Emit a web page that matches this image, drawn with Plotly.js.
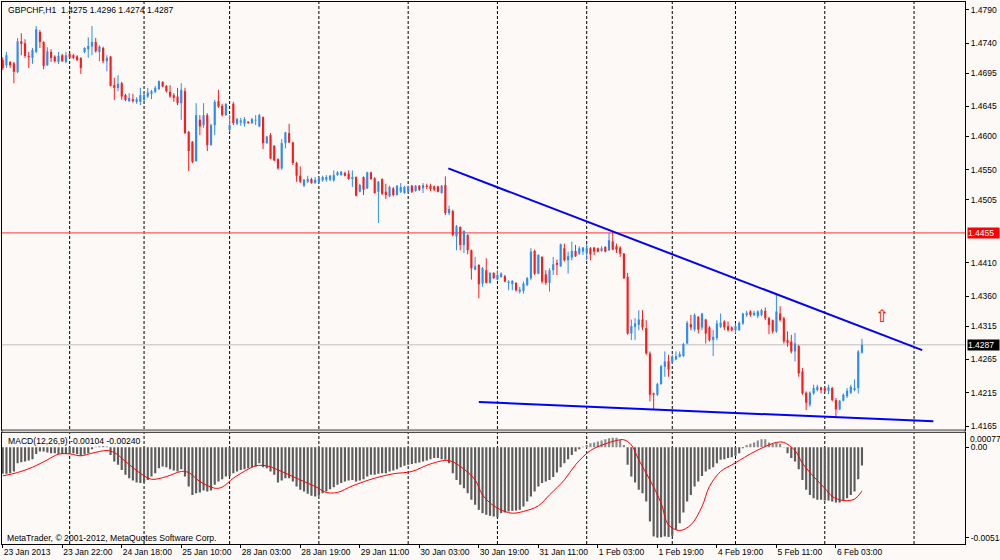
<!DOCTYPE html>
<html>
<head>
<meta charset="utf-8">
<script src="https://cdn.plot.ly/plotly-3.0.1.min.js"></script>
<style>
html,body{margin:0;padding:0;background:#fcf9f7;}
#chart{width:1000px;height:560px;}
</style>
</head>
<body>
<div id="chart"></div>
<script>
// ---------------- DATA (GBPCHF, H1) ----------------
const openP = [
1.4715,1.4707,1.4712,1.4710,1.4697,1.4743,1.4740,1.4721,1.4718,1.4727,
1.4757,1.4742,1.4707,1.4727,1.4720,1.4712,1.4722,1.4712,1.4724,1.4722,
1.4720,1.4718,1.4727,1.4731,1.4735,1.4742,1.4727,1.4733,1.4713,1.4720,
1.4677,1.4673,1.4680,1.4662,1.4653,1.4656,1.4652,1.4652,1.4655,1.4660,
1.4664,1.4667,1.4671,1.4682,1.4676,1.4667,1.4662,1.4660,1.4650,1.4668,
1.4607,1.4592,1.4563,1.4625,1.4617,1.4632,1.4587,1.4617,1.4653,1.4646,
1.4632,1.4610,1.4649,1.4619,1.4621,1.4619,1.4622,1.4620,1.4624,1.4615,
1.4629,1.4590,1.4602,1.4586,1.4566,1.4552,1.4590,1.4605,1.4591,1.4560,
1.4541,1.4526,1.4532,1.4536,1.4530,1.4532,1.4534,1.4535,1.4535,1.4534,
1.4542,1.4542,1.4545,1.4544,1.4536,1.4539,1.4517,1.4539,1.4522,1.4546,
1.4537,1.4517,1.4536,1.4517,1.4510,1.4522,1.4512,1.4517,1.4515,1.4517,
1.4526,1.4518,1.4526,1.4522,1.4526,1.4526,1.4525,1.4525,1.4515,1.4527,
1.4485,1.4488,1.4450,1.4464,1.4437,1.4452,1.4429,1.4400,1.4407,1.4379,
1.4399,1.4380,1.4395,1.4385,1.4389,1.4390,1.4380,1.4378,1.4380,1.4367,
1.4368,1.4377,1.4387,1.4428,1.4394,1.4419,1.4393,1.4380,1.4399,1.4410,
1.4405,1.4432,1.4414,1.4418,1.4428,1.4424,1.4427,1.4425,1.4432,1.4433,
1.4432,1.4428,1.4434,1.4429,1.4442,1.4435,1.4433,1.4424,1.4389,1.4304,
1.4314,1.4317,1.4325,1.4312,1.4274,1.4214,1.4212,1.4228,1.4254,1.4262,
1.4262,1.4265,1.4269,1.4270,1.4289,1.4318,1.4310,1.4329,1.4313,1.4325,
1.4313,1.4294,1.4297,1.4314,1.4322,1.4315,1.4313,1.4309,1.4309,1.4319,
1.4332,1.4337,1.4332,1.4330,1.4332,1.4338,1.4327,1.4324,1.4307,1.4334,
1.4327,1.4294,1.4292,1.4277,1.4285,1.4247,1.4215,1.4197,1.4214,1.4219,
1.4223,1.4222,1.4218,1.4222,1.4204,1.4190,1.4203,1.4210,1.4215,1.4219,
1.4222,1.4275];
const highP = [
1.4719,1.4727,1.4713,1.4712,1.4748,1.4755,1.4746,1.4727,1.4733,1.4766,
1.4760,1.4743,1.4734,1.4731,1.4722,1.4727,1.4724,1.4727,1.4725,1.4724,
1.4722,1.4719,1.4734,1.4749,1.4766,1.4748,1.4737,1.4735,1.4722,1.4721,
1.4688,1.4692,1.4682,1.4664,1.4665,1.4664,1.4659,1.4673,1.4665,1.4673,
1.4670,1.4676,1.4684,1.4683,1.4677,1.4677,1.4665,1.4673,1.4680,1.4673,
1.4608,1.4593,1.4650,1.4632,1.4650,1.4635,1.4619,1.4655,1.4670,1.4649,
1.4650,1.4632,1.4652,1.4628,1.4628,1.4629,1.4623,1.4628,1.4632,1.4634,
1.4630,1.4601,1.4605,1.4587,1.4567,1.4596,1.4607,1.4619,1.4592,1.4562,
1.4555,1.4536,1.4541,1.4538,1.4539,1.4539,1.4541,1.4542,1.4542,1.4549,
1.4548,1.4548,1.4547,1.4549,1.4549,1.4540,1.4529,1.4540,1.4547,1.4547,
1.4539,1.4533,1.4537,1.4529,1.4526,1.4524,1.4527,1.4530,1.4526,1.4526,
1.4527,1.4527,1.4527,1.4530,1.4529,1.4529,1.4526,1.4526,1.4527,1.4540,
1.4496,1.4490,1.4467,1.4465,1.4459,1.4453,1.4430,1.4419,1.4408,1.4404,
1.4417,1.4396,1.4396,1.4399,1.4396,1.4392,1.4384,1.4384,1.4381,1.4374,
1.4382,1.4389,1.4432,1.4430,1.4423,1.4420,1.4399,1.4402,1.4419,1.4415,
1.4439,1.4439,1.4427,1.4442,1.4437,1.4435,1.4434,1.4439,1.4434,1.4434,
1.4433,1.4435,1.4435,1.4455,1.4457,1.4439,1.4435,1.4425,1.4395,1.4325,
1.4327,1.4339,1.4339,1.4324,1.4277,1.4215,1.4230,1.4257,1.4277,1.4272,
1.4272,1.4277,1.4277,1.4290,1.4323,1.4332,1.4334,1.4330,1.4335,1.4326,
1.4315,1.4309,1.4324,1.4334,1.4324,1.4322,1.4315,1.4319,1.4322,1.4335,
1.4338,1.4339,1.4338,1.4339,1.4341,1.4343,1.4329,1.4325,1.4363,1.4345,
1.4329,1.4307,1.4302,1.4305,1.4287,1.4252,1.4217,1.4217,1.4227,1.4227,
1.4224,1.4224,1.4227,1.4224,1.4207,1.4204,1.4214,1.4222,1.4227,1.4235,
1.4279,1.4296];
const lowP = [
1.4700,1.4703,1.4703,1.4680,1.4695,1.4722,1.4718,1.4703,1.4709,1.4725,
1.4733,1.4701,1.4706,1.4712,1.4711,1.4709,1.4712,1.4710,1.4718,1.4716,
1.4713,1.4694,1.4725,1.4718,1.4722,1.4726,1.4713,1.4710,1.4698,1.4675,
1.4655,1.4668,1.4655,1.4653,1.4652,1.4651,1.4649,1.4647,1.4653,1.4658,
1.4656,1.4665,1.4670,1.4674,1.4666,1.4658,1.4652,1.4647,1.4625,1.4604,
1.4548,1.4560,1.4562,1.4602,1.4613,1.4578,1.4586,1.4602,1.4643,1.4630,
1.4631,1.4607,1.4617,1.4617,1.4616,1.4615,1.4619,1.4619,1.4617,1.4614,
1.4581,1.4589,1.4566,1.4563,1.4550,1.4550,1.4582,1.4590,1.4557,1.4532,
1.4530,1.4524,1.4530,1.4529,1.4529,1.4530,1.4532,1.4532,1.4533,1.4532,
1.4541,1.4541,1.4540,1.4535,1.4524,1.4510,1.4516,1.4512,1.4521,1.4535,
1.4514,1.4470,1.4512,1.4506,1.4509,1.4510,1.4511,1.4515,1.4514,1.4516,
1.4515,1.4517,1.4518,1.4515,1.4521,1.4518,1.4518,1.4516,1.4514,1.4482,
1.4482,1.4450,1.4429,1.4429,1.4425,1.4423,1.4385,1.4399,1.4357,1.4374,
1.4379,1.4379,1.4386,1.4384,1.4388,1.4381,1.4369,1.4369,1.4367,1.4364,
1.4364,1.4375,1.4384,1.4392,1.4393,1.4379,1.4377,1.4367,1.4392,1.4392,
1.4404,1.4412,1.4394,1.4414,1.4419,1.4422,1.4422,1.4414,1.4414,1.4422,
1.4426,1.4427,1.4426,1.4428,1.4429,1.4425,1.4419,1.4386,1.4302,1.4294,
1.4294,1.4309,1.4309,1.4272,1.4202,1.4190,1.4210,1.4227,1.4239,1.4239,
1.4259,1.4264,1.4268,1.4269,1.4288,1.4309,1.4307,1.4304,1.4309,1.4289,
1.4292,1.4270,1.4294,1.4312,1.4309,1.4307,1.4307,1.4304,1.4308,1.4317,
1.4329,1.4329,1.4330,1.4327,1.4330,1.4324,1.4303,1.4304,1.4305,1.4322,
1.4289,1.4284,1.4274,1.4262,1.4239,1.4212,1.4189,1.4194,1.4212,1.4217,
1.4214,1.4216,1.4213,1.4202,1.4179,1.4189,1.4202,1.4207,1.4213,1.4217,
1.4214,1.4274];
const closeP = [
1.4703,1.4722,1.4707,1.4697,1.4743,1.4739,1.4721,1.4719,1.4730,1.4761,
1.4742,1.4706,1.4728,1.4718,1.4713,1.4721,1.4713,1.4722,1.4719,1.4718,
1.4715,1.4703,1.4733,1.4736,1.4742,1.4728,1.4735,1.4713,1.4718,1.4676,
1.4673,1.4679,1.4660,1.4655,1.4658,1.4653,1.4656,1.4662,1.4662,1.4666,
1.4668,1.4673,1.4683,1.4675,1.4668,1.4660,1.4658,1.4650,1.4670,1.4605,
1.4578,1.4562,1.4632,1.4615,1.4632,1.4587,1.4617,1.4652,1.4645,1.4632,
1.4649,1.4617,1.4620,1.4626,1.4624,1.4626,1.4620,1.4626,1.4625,1.4632,
1.4590,1.4600,1.4567,1.4564,1.4552,1.4590,1.4606,1.4591,1.4560,1.4541,
1.4532,1.4535,1.4536,1.4530,1.4535,1.4537,1.4539,1.4539,1.4541,1.4542,
1.4546,1.4547,1.4541,1.4536,1.4539,1.4511,1.4527,1.4520,1.4546,1.4536,
1.4515,1.4532,1.4514,1.4512,1.4524,1.4512,1.4526,1.4524,1.4524,1.4524,
1.4517,1.4526,1.4520,1.4527,1.4524,1.4521,1.4520,1.4517,1.4526,1.4485,
1.4491,1.4452,1.4465,1.4437,1.4458,1.4429,1.4402,1.4405,1.4378,1.4402,
1.4380,1.4395,1.4387,1.4392,1.4394,1.4382,1.4382,1.4383,1.4369,1.4370,
1.4379,1.4387,1.4427,1.4394,1.4422,1.4382,1.4380,1.4399,1.4408,1.4407,
1.4438,1.4414,1.4420,1.4428,1.4420,1.4432,1.4433,1.4432,1.4423,1.4427,
1.4427,1.4432,1.4427,1.4444,1.4430,1.4430,1.4424,1.4387,1.4304,1.4315,
1.4319,1.4325,1.4313,1.4274,1.4212,1.4212,1.4228,1.4255,1.4262,1.4250,
1.4269,1.4270,1.4273,1.4288,1.4320,1.4313,1.4332,1.4310,1.4334,1.4304,
1.4294,1.4299,1.4319,1.4320,1.4313,1.4309,1.4309,1.4315,1.4320,1.4334,
1.4335,1.4332,1.4335,1.4337,1.4339,1.4327,1.4317,1.4307,1.4337,1.4324,
1.4292,1.4290,1.4277,1.4289,1.4244,1.4214,1.4200,1.4215,1.4222,1.4224,
1.4219,1.4218,1.4223,1.4204,1.4190,1.4203,1.4212,1.4218,1.4224,1.4222,
1.4277,1.4287];

// MACD(12,26,9) main values (histogram)
const macdHist = [
-0.00151,-0.00151,-0.00148,-0.00138,-0.00091,-0.00085,-0.00081,-0.00076,-0.00068,-0.00038,
-0.00025,-0.00025,-0.00030,-0.00034,-0.00034,-0.00038,-0.00038,-0.00038,-0.00034,-0.00034,
-0.00038,-0.00049,-0.00042,-0.00034,-0.00012,0.00002,0.00005,0.00007,0.00004,-0.00044,
-0.00081,-0.00100,-0.00129,-0.00157,-0.00176,-0.00189,-0.00201,-0.00204,-0.00201,-0.00186,
-0.00167,-0.00148,-0.00119,-0.00110,-0.00114,-0.00125,-0.00133,-0.00138,-0.00125,-0.00167,
-0.00223,-0.00271,-0.00261,-0.00257,-0.00246,-0.00252,-0.00246,-0.00214,-0.00195,-0.00182,
-0.00167,-0.00163,-0.00148,-0.00138,-0.00129,-0.00125,-0.00119,-0.00114,-0.00110,-0.00091,
-0.00114,-0.00119,-0.00138,-0.00157,-0.00201,-0.00189,-0.00176,-0.00176,-0.00195,-0.00223,
-0.00242,-0.00252,-0.00265,-0.00276,-0.00280,-0.00276,-0.00261,-0.00252,-0.00239,-0.00227,
-0.00214,-0.00204,-0.00195,-0.00189,-0.00186,-0.00195,-0.00189,-0.00182,-0.00167,-0.00157,
-0.00157,-0.00151,-0.00148,-0.00148,-0.00138,-0.00133,-0.00125,-0.00114,-0.00106,-0.00100,
-0.00095,-0.00091,-0.00087,-0.00081,-0.00076,-0.00068,-0.00062,-0.00062,-0.00068,-0.00072,
-0.00091,-0.00148,-0.00186,-0.00214,-0.00233,-0.00261,-0.00299,-0.00327,-0.00356,-0.00375,
-0.00384,-0.00390,-0.00394,-0.00398,-0.00375,-0.00371,-0.00365,-0.00362,-0.00360,-0.00356,
-0.00337,-0.00308,-0.00280,-0.00252,-0.00223,-0.00204,-0.00195,-0.00186,-0.00170,-0.00144,
-0.00114,-0.00091,-0.00068,-0.00044,-0.00025,-0.00011,0.00002,0.00013,0.00023,0.00027,
0.00032,0.00038,0.00045,0.00051,0.00053,0.00053,0.00042,0.00013,-0.00100,-0.00167,
-0.00201,-0.00242,-0.00261,-0.00308,-0.00422,-0.00507,-0.00514,-0.00512,-0.00507,-0.00510,
-0.00504,-0.00469,-0.00432,-0.00371,-0.00308,-0.00271,-0.00223,-0.00195,-0.00163,-0.00138,
-0.00125,-0.00114,-0.00091,-0.00072,-0.00068,-0.00062,-0.00057,-0.00049,-0.00034,-0.00006,
0.00013,0.00019,0.00027,0.00038,0.00045,0.00045,0.00027,0.00019,0.00027,0.00019,
-0.00002,-0.00034,-0.00062,-0.00081,-0.00125,-0.00186,-0.00242,-0.00271,-0.00290,-0.00299,
-0.00299,-0.00303,-0.00303,-0.00308,-0.00314,-0.00314,-0.00303,-0.00290,-0.00271,-0.00252,
-0.00182,-0.00104];

// MACD signal line, read at these bar positions
const sigIdx = [0,4,8,12,15,18,21,24,28,30,33,37,40,44,48,50,53,57,59,62,66,68,71,75,80,84,87,90,94,100,105,110,115,120,124,127,129,132,135,137,140,144,147,151,154,158,162,165,167,169,171,174,177,179,182,185,188,190,193,196,198,201,205,208,210,213,215,218,221,223,226,229,231];
const sigVal = [-0.00163,-0.00144,-0.00114,-0.00072,-0.00040,-0.00038,-0.00049,-0.00034,-0.00019,-0.00030,-0.00081,-0.00148,-0.00182,-0.00167,-0.00138,-0.00144,-0.00195,-0.00233,-0.00227,-0.00176,-0.00125,-0.00106,-0.00106,-0.00138,-0.00186,-0.00223,-0.00257,-0.00257,-0.00220,-0.00176,-0.00151,-0.00138,-0.00095,-0.00076,-0.00125,-0.00186,-0.00271,-0.00333,-0.00365,-0.00375,-0.00365,-0.00333,-0.00271,-0.00186,-0.00100,-0.00019,0.00019,0.00038,0.00042,0.00013,-0.00072,-0.00186,-0.00318,-0.00441,-0.00473,-0.00441,-0.00337,-0.00223,-0.00138,-0.00100,-0.00076,-0.00038,0.00004,0.00027,0.00027,-0.00019,-0.00091,-0.00167,-0.00233,-0.00280,-0.00303,-0.00295,-0.00250];

// time axis labels (every 16 bars)
const timeLabelIdx = [0,16,32,48,64,80,96,112,128,144,160,176,192,208,224];
const timeLabels = ["23 Jan 2013","23 Jan 22:00","24 Jan 18:00","25 Jan 10:00","28 Jan 03:00","28 Jan 19:00","29 Jan 11:00","30 Jan 03:00","30 Jan 19:00","31 Jan 11:00","1 Feb 03:00","1 Feb 19:00","4 Feb 19:00","5 Feb 11:00","6 Feb 03:00"];
// day separators (first bar of each day)
const dayStartIdx = [18,38,61,85,109,133,157,180,197,221,245];

// price scale labels
const priceTicks = [1.4790,1.4740,1.4695,1.4645,1.4600,1.4550,1.4505,1.4410,1.4360,1.4315,1.4265,1.4215,1.4165];
const priceTickText = ["1.4790","1.4740","1.4695","1.4645","1.4600","1.4550","1.4505","1.4410","1.4360","1.4315","1.4265","1.4215","1.4165"];
const macdTicks = [0, -0.00514];
const macdTickText = ["0.00", "-0.00514"];
const macdMax = 0.00077;

// levels and trend lines
const redLevel = 1.4455;
const bidLevel = 1.4287;
const upperLineIdx = [119.8, 247.2];
const upperLinePrice = [1.4552, 1.4279];
const lowerLineIdx = [128.0, 250.2];
const lowerLinePrice = [1.4201, 1.4172];
const arrowIdx = 236.4;
const arrowPrice = 1.4331;

const headerText = "GBPCHF,H1  1.4275 1.4296 1.4274 1.4287";
const macdText = "MACD(12,26,9) -0.00104 -0.00240";
const copyText = "MetaTrader, \u00a9 2001-2012, MetaQuotes Software Corp.";

// ---------------- BUILD ----------------
const N = openP.length;
const idx = [], bodyH = [], bodyBase = [], bodyCol = [];
const wUpX = [], wUpY = [], wDnX = [], wDnY = [];
const UP = '#2e8cf5', DN = '#ff1a1a';
for (let i = 0; i < N; i++) {
  idx.push(i);
  const o = openP[i], c = closeP[i];
  const up = c >= o;
  bodyBase.push(Math.min(o, c));
  bodyH.push(Math.max(Math.abs(c - o), 0.00008));
  bodyCol.push(up ? UP : DN);
  if (up) { wUpX.push(i, i, null); wUpY.push(lowP[i], highP[i], null); }
  else { wDnX.push(i, i, null); wDnY.push(lowP[i], highP[i], null); }
}
const histCol = macdHist.map(v => v >= 0 ? '#8c8c8c' : '#5c5c5c');

const FONT = "'Liberation Sans', Arial, sans-serif";
const traces = [
  {type:'scatter', mode:'lines', x:wUpX, y:wUpY, xaxis:'x', yaxis:'y', line:{color:UP, width:1}, hoverinfo:'skip'},
  {type:'scatter', mode:'lines', x:wDnX, y:wDnY, xaxis:'x', yaxis:'y', line:{color:DN, width:1}, hoverinfo:'skip'},
  {type:'bar', x:idx, y:bodyH, base:bodyBase, width:0.58, xaxis:'x', yaxis:'y', marker:{color:bodyCol, line:{width:0}}, hoverinfo:'skip'},
  {type:'scatter', mode:'lines', x:upperLineIdx, y:upperLinePrice, xaxis:'x', yaxis:'y', line:{color:'#0000ff', width:2}, hoverinfo:'skip'},
  {type:'scatter', mode:'lines', x:lowerLineIdx, y:lowerLinePrice, xaxis:'x', yaxis:'y', line:{color:'#0000ff', width:2}, hoverinfo:'skip'},
  {type:'bar', x:idx, y:macdHist, width:0.58, xaxis:'x2', yaxis:'y2', marker:{color:histCol, line:{width:0}}, hoverinfo:'skip'},
  {type:'scatter', mode:'lines', x:sigIdx, y:sigVal, xaxis:'x2', yaxis:'y2', line:{color:'#ff0000', width:1, shape:'spline'}, hoverinfo:'skip'}
];

const XL = 0.002, XR = 0.965;
const mainDom = [130/560, 558/560];
const macdDom = [16/560, 127.5/560];
const xr = [-0.19, 258.7];

const shapes = [];
dayStartIdx.forEach(d => {
  shapes.push({type:'line', xref:'x', yref:'paper', x0:d, x1:d, y0:macdDom[0], y1:mainDom[1],
    line:{color:'#000000', width:1, dash:'3px,2px'}, layer:'below'});
});
shapes.push({type:'line', xref:'paper', yref:'y', x0:XL, x1:XR, y0:redLevel, y1:redLevel, line:{color:'#ff5a5a', width:1.3}, layer:'below'});
shapes.push({type:'line', xref:'paper', yref:'y', x0:XL, x1:XR, y0:bidLevel, y1:bidLevel, line:{color:'#c0c0c0', width:1}, layer:'below'});
shapes.push({type:'rect', xref:'paper', yref:'paper', x0:XL, x1:XR, y0:macdDom[1], y1:mainDom[0], fillcolor:'#d4d4d4', line:{color:'#4a4a4a', width:1}});

const annotations = [
  {xref:'paper', yref:'paper', x:6/1000, y:1-10/560, xanchor:'left', yanchor:'middle', text:headerText, showarrow:false, font:{family:FONT, size:8.6, color:'#000'}},
  {xref:'paper', yref:'paper', x:6/1000, y:1-441/560, xanchor:'left', yanchor:'middle', text:macdText, showarrow:false, font:{family:FONT, size:8.6, color:'#000'}},
  {xref:'paper', yref:'paper', x:5/1000, y:1-537.5/560, xanchor:'left', yanchor:'middle', text:copyText, showarrow:false, font:{family:FONT, size:8.6, color:'#000'}},
  {xref:'paper', yref:'y', x:0.9665, y:redLevel, xanchor:'left', yanchor:'middle', text:'1.4455', showarrow:false, bgcolor:'#ff0000', width:31, height:10, align:'left', borderpad:0, font:{family:FONT, size:8.5, color:'#ffffff'}},
  {xref:'paper', yref:'y', x:0.9665, y:bidLevel, xanchor:'left', yanchor:'middle', text:'1.4287', showarrow:false, bgcolor:'#000000', width:31, height:10, align:'left', borderpad:0, font:{family:FONT, size:8.5, color:'#ffffff'}},
  {xref:'paper', yref:'y2', x:0.968, y:macdMax, xanchor:'left', yanchor:'middle', yshift:-5, text:'0.00077', showarrow:false, font:{family:FONT, size:8.5, color:'#000'}},
  {xref:'x', yref:'y', x:arrowIdx, y:arrowPrice, xanchor:'center', yanchor:'middle', text:'\u21e7', showarrow:false, font:{family:'DejaVu Sans', size:17, color:'#ff0000'}}
];

const axisCommon = {showgrid:false, zeroline:false, showline:true, linecolor:'#000', linewidth:1, mirror:true, fixedrange:true};
const layout = {
  width:1000, height:560,
  margin:{l:0, r:0, t:0, b:0, pad:0},
  paper_bgcolor:'#fcf9f7', plot_bgcolor:'#fcf9f7',
  showlegend:false, hovermode:false, barmode:'overlay',
  font:{family:FONT, size:8.5, color:'#000'},
  xaxis:Object.assign({}, axisCommon, {domain:[XL, XR], anchor:'y', range:xr, showticklabels:false, ticks:''}),
  yaxis:Object.assign({}, axisCommon, {domain:mainDom, anchor:'x', side:'right', range:[1.4159, 1.4802],
    tickmode:'array', tickvals:priceTicks, ticktext:priceTickText, ticks:'outside', ticklen:3, tickcolor:'#000',
    tickfont:{family:FONT, size:8.5, color:'#000'}}),
  xaxis2:Object.assign({}, axisCommon, {domain:[XL, XR], anchor:'y2', range:xr, matches:'x',
    tickmode:'array', tickvals:timeLabelIdx, ticktext:timeLabels, ticks:'outside', ticklen:3, tickcolor:'#000',
    ticklabelposition:'outside right', tickfont:{family:FONT, size:8.5, color:'#000'}}),
  yaxis2:Object.assign({}, axisCommon, {domain:macdDom, anchor:'x2', side:'right', range:[-0.0055, 0.000835],
    tickmode:'array', tickvals:macdTicks, ticktext:macdTickText, ticks:'outside', ticklen:3, tickcolor:'#000',
    tickfont:{family:FONT, size:8.5, color:'#000'}}),
  shapes:shapes,
  annotations:annotations
};

Plotly.newPlot('chart', traces, layout, {staticPlot:true, displayModeBar:false});
</script>
</body>
</html>
